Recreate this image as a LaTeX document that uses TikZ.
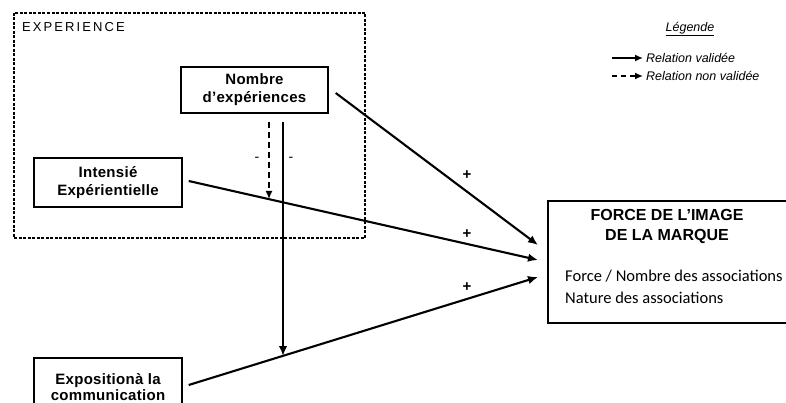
\documentclass[tikz,border=0pt]{standalone}
\usepackage{fontspec}
\setmainfont{Liberation Sans}
\newfontfamily\widefont{Liberation Sans}[LetterSpace=2]
\newfontfamily\titlefont{Liberation Sans}[LetterSpace=16]
\newfontfamily\calfont{Carlito}
\usetikzlibrary{arrows.meta}

\begin{document}
\begin{tikzpicture}[x=1pt,y=-1pt,
    box/.style={draw,line width=1.4pt,inner sep=0pt,align=center,
                font=\widefont\bfseries\fontsize{15}{18}\selectfont},
    dashbox/.style={draw,line width=1.8pt,dash pattern=on 3pt off 1.5pt,inner sep=0pt},
    rel/.style={line width=2.1pt,-{Latex[length=10pt,width=8.5pt]}},
    norel/.style={line width=1.4pt,dash pattern=on 6pt off 4pt,-{Latex[length=8pt,width=7pt]}},
    legrel/.style={line width=1.5pt,-{Latex[length=8pt,width=7pt]}},
    sign/.style={font=\bfseries\fontsize{15}{16}\selectfont,inner sep=0pt},
    minus/.style={font=\fontsize{14}{16}\selectfont,inner sep=0pt},
    leg/.style={font=\itshape\fontsize{12.5}{14}\selectfont,inner sep=0pt}]
                    \useasboundingbox (0,0) rectangle (786,403);
                    % bloc experience
                    \node[dashbox,minimum width=351pt,minimum height=225pt] (experience) at (189.5,125.5) {};
                    \node[anchor=west,inner sep=0pt,font=\titlefont\fontsize{13}{16}\selectfont] (exptitre) at (22,27) {EXPERIENCE};
                    \node[box,minimum width=147pt,minimum height=46pt] (nombre) at (254.5,90) {Nombre\\d’expériences};
                    \node[box,minimum width=148pt,minimum height=49pt] (intens) at (108,182.5) {Intensié\\Expérientielle};
                    \node[box,minimum width=148pt,minimum height=58pt,
                          font=\widefont\bfseries\fontsize{15}{16}\selectfont] (expo) at (108,387) {Expositionà la\\communication};
                    % image de marque
                    \node[draw,line width=1.4pt,minimum width=242pt,minimum height=122pt] (force) at (669,262) {};
                    \node[align=center,inner sep=0pt,font=\bfseries\fontsize{16}{20}\selectfont] (titre) at (667,226) {FORCE DE L’IMAGE\\DE LA MARQUE};
                    \node[align=left,anchor=west,inner sep=0pt,font=\calfont\fontsize{16.5}{22}\selectfont] (assoc) at (565,287) {Force / Nombre des associations\\Nature des associations};
                    \coordinate (f1) at (538,245);
                    \coordinate (f2) at (538,260);
                    \coordinate (f3) at (538,277);
                    \draw[rel] ([xshift=7pt,yshift=-3pt]nombre.east) -- (f1);
                    \draw[rel] ([xshift=6pt,yshift=1.5pt]intens.east) -- (f2);
                    \draw[rel] ([xshift=6pt,yshift=2pt]expo.east) -- (f3);
                    % moderations
                    \coordinate (mod1) at (283,356);
                    \coordinate (mod2) at (269,199);
                    \draw[rel] ([xshift=28.5pt,yshift=-8pt]nombre.south) -- (mod1);
                    \draw[norel] ([xshift=14.5pt,yshift=-8pt]nombre.south) -- (mod2);
                    \node[minus] (moins1) at (257,159) {-};
                    \node[minus] (moins2) at (291,159) {-};
                    \node[sign] (plus1) at (467,175) {+};
                    \node[sign] (plus2) at (467,234) {+};
                    \node[sign] (plus3) at (467,287) {+};
                    % legende
                    \node[leg] (legende) at (690,29) {\underline{Légende}};
                    \coordinate (la) at (612,58);
                    \coordinate (lb) at (643,58);
                    \coordinate (lc) at (612,76);
                    \coordinate (ld) at (643,76);
                    \draw[legrel] (la) -- (lb);
                    \draw[legrel,dash pattern=on 5pt off 4pt] (lc) -- (ld);
                    \node[leg,anchor=west] (valide) at (646,58) {Relation validée};
                    \node[leg,anchor=west] (nonvalide) at (646,76) {Relation non validée};
\end{tikzpicture}
\end{document}
